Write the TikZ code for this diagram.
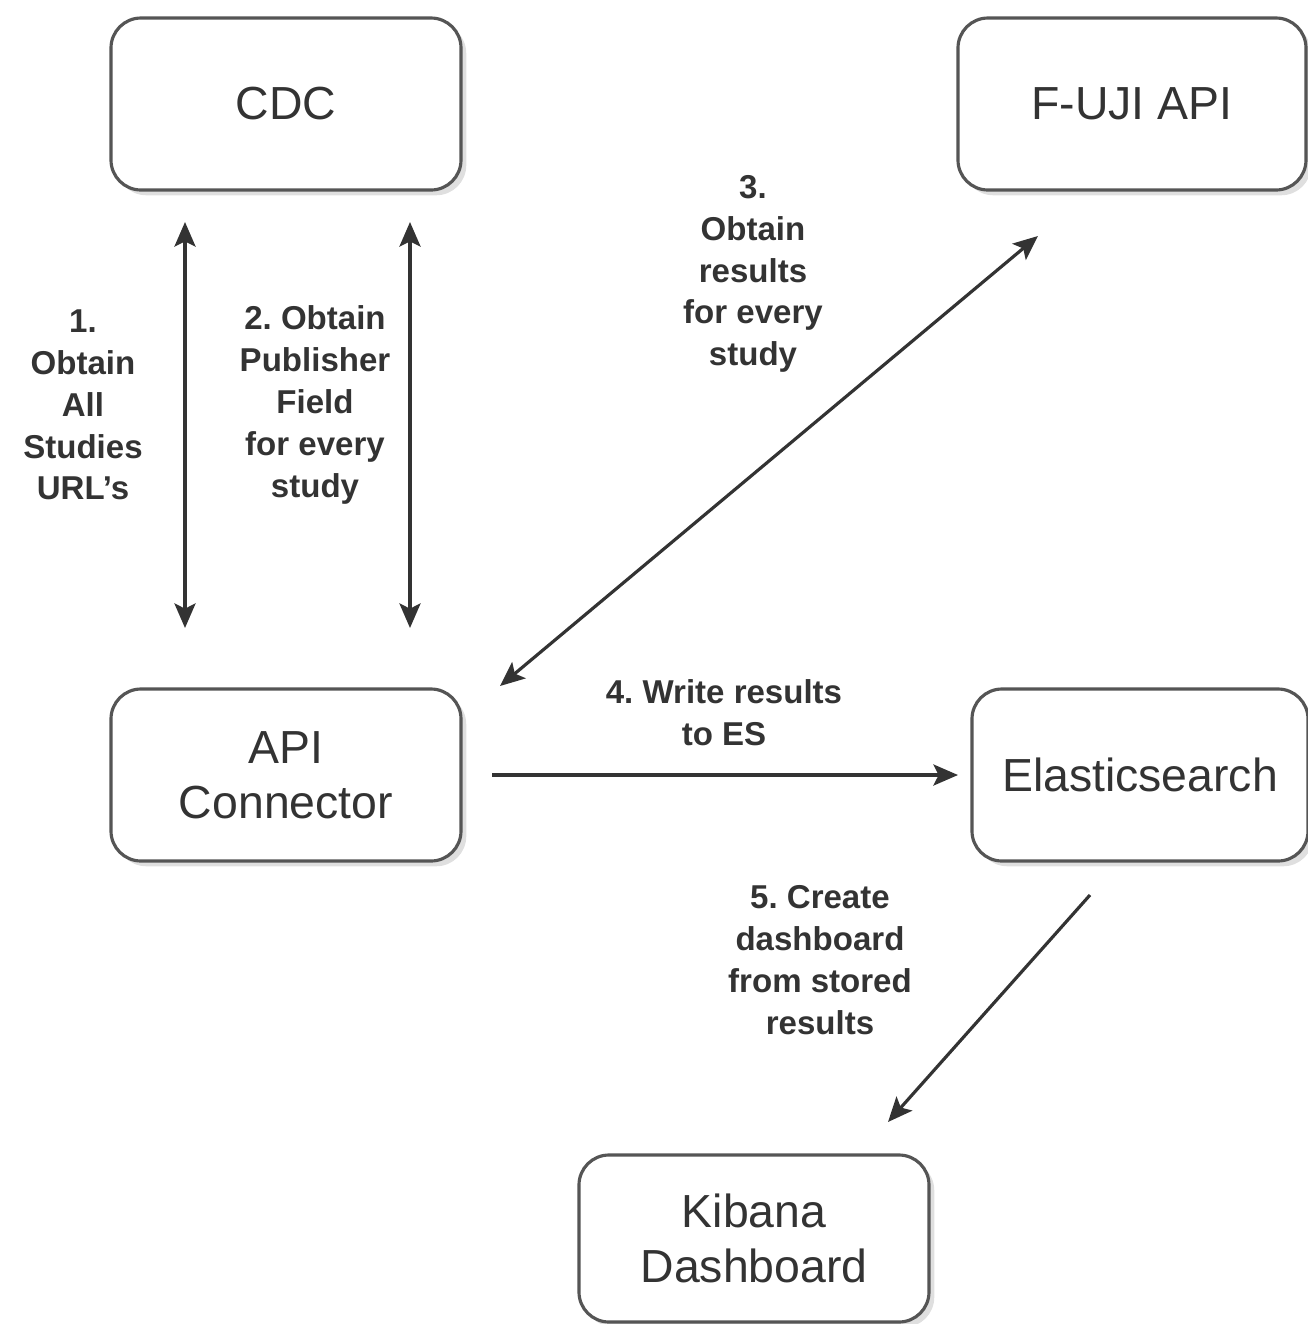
\documentclass[tikz,border=0pt]{standalone}
\usepackage{fontspec}
\setmainfont{Liberation Sans}
\usetikzlibrary{arrows.meta,shadows}
\frenchspacing

\definecolor{inkgray}{HTML}{333333}
\definecolor{boxgray}{HTML}{555555}

\tikzset{
  block/.style={draw=boxgray, line width=0.9pt, rounded corners=0.3cm, fill=white,
    minimum width=3.5cm, minimum height=1.72cm, align=center, text=inkgray,
    font=\fontsize{13.2}{15.7}\selectfont,
    drop shadow={shadow xshift=1.5pt, shadow yshift=-1.5pt, opacity=0.25}},
  link/.style={draw=inkgray, line width=0.9pt, -{Stealth[length=7pt,width=6pt,inset=1.5pt]}},
  twoway/.style={link, {Stealth[length=7pt,width=6pt,inset=1.5pt]}-{Stealth[length=7pt,width=6pt,inset=1.5pt]}},
  note/.style={align=center, text=inkgray, font=\fontsize{9.4}{11.9}\selectfont\bfseries}
}

\begin{document}
\begin{tikzpicture}
\useasboundingbox (0,0) rectangle (13.08,-13.24);

% boxes
\node[block] (cdc) at (2.86,-1.04) {CDC};
\node[block, minimum width=3.48cm] (fuji) at (11.32,-1.04) {F-UJI API};
\node[block] (conn) at (2.86,-7.75) {API\\Connector};
\node[block, minimum width=3.36cm] (es) at (11.40,-7.75) {Elasticsearch};
\node[block, minimum height=1.67cm] (kib) at (7.54,-12.385) {Kibana\\Dashboard};

% arrow ends
\coordinate (u1) at (1.85,-2.22);
\coordinate (d1) at (1.85,-6.28);
\coordinate (u2) at (4.10,-2.22);
\coordinate (d2) at (4.10,-6.28);
\coordinate (c3) at (5.00,-6.86);
\coordinate (f3) at (10.38,-2.36);
\coordinate (c4) at (4.92,-7.75);
\coordinate (e4) at (9.58,-7.75);
\coordinate (e5) at (10.90,-8.95);
\coordinate (k5) at (8.88,-11.22);

\draw[twoway] (u1) -- (d1);
\draw[twoway] (u2) -- (d2);
\draw[twoway] (c3) -- (f3);
\draw[link] (c4) -- (e4);
\draw[link] (e5) -- (k5);

% labels
\node[note] (n1) at (0.83,-4.05) {1.\\Obtain\\All\\Studies\\URL's};
\node[note] (n2) at (3.15,-4.05) {2. Obtain\\Publisher\\Field\\for every\\study};
\node[note] (n3) at (7.53,-2.74) {3.\\Obtain\\results\\for every\\study};
\node[note] (n4) at (7.24,-7.13) {4. Write results\\to ES};
\node[note] (n5) at (8.20,-9.60) {5. Create\\dashboard\\from stored\\results};

\end{tikzpicture}
\end{document}
